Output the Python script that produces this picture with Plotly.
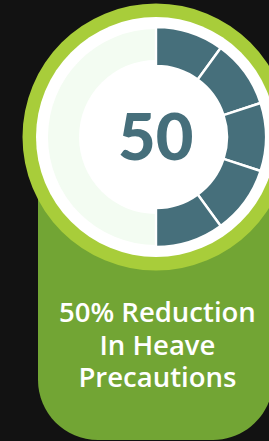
import plotly.graph_objects as go

# ---- data ----
score = 50
segment_values = [10, 10, 10, 10, 10]   # filled gauge segments (sum = score)
remainder = [100 - score]               # unfilled portion
track_values = [100]
big_label = "50"
caption_lines = ["50% Reduction", "In Heave", "Precautions"]

# ---- style ----
W, H = 269, 441
BG = "#121212"
DARK_GREEN = "#72a534"
LIME = "#a8cd3a"
TEAL = "#466f7b"
TRACK = "#f3fcf2"
CX, CY = 156, 137


def dom(r):
    return dict(x=[(CX - r) / W, (CX + r) / W],
                y=[1 - (CY + r) / H, 1 - (CY - r) / H])


fig = go.Figure()

# pale track ring
r_track = 108
fig.add_trace(go.Pie(
    values=track_values, hole=77 / r_track, domain=dom(r_track),
    marker=dict(colors=[TRACK], line=dict(width=0)),
    textinfo="none", hoverinfo="skip", sort=False, showlegend=False))

# teal segments
r_g = 110
fig.add_trace(go.Pie(
    values=segment_values + remainder, hole=71 / r_g, domain=dom(r_g),
    rotation=0, direction="clockwise", sort=False,
    marker=dict(colors=[TEAL] * len(segment_values) + ["rgba(0,0,0,0)"],
                line=dict(color="white", width=[2.4] * len(segment_values) + [0])),
    textinfo="none", hoverinfo="skip", showlegend=False))

k = 0.5523
R = 60
L, Rt, B, T = 38, 273, 440, CY
path = (f"M {L},{T} L {L},{B-R} C {L},{B-R+R*k} {L+R-R*k},{B} {L+R},{B} "
        f"L {Rt-R},{B} C {Rt-R+R*k},{B} {Rt},{B-R+R*k} {Rt},{B-R} L {Rt},{T} Z")

shapes = [
    dict(type="path", path=path, xref="x", yref="y", fillcolor=DARK_GREEN,
         line=dict(width=0), layer="below"),
    dict(type="circle", xref="x", yref="y", x0=CX - 133.5, x1=CX + 133.5,
         y0=CY - 133.5, y1=CY + 133.5, fillcolor=LIME, line=dict(width=0), layer="below"),
    dict(type="circle", xref="x", yref="y", x0=CX - 120, x1=CX + 120,
         y0=CY - 120, y1=CY + 120, fillcolor="white", line=dict(width=0), layer="below"),
]

caption = "<br>".join(f"<span style='font-size:27.5px'>{s}</span>" for s in caption_lines)

annotations = [
    dict(x=155, y=135, xref="x", yref="y", text=big_label, showarrow=False,
         font=dict(family="Lato", size=65, color=TEAL, weight=900),
         xanchor="center", yanchor="middle"),
    dict(x=157, y=344, xref="x", yref="y", text=caption, showarrow=False,
         xanchor="center", yanchor="middle", align="center",
         font=dict(family="Open Sans", size=25, color="white", weight=600)),
]

fig.update_layout(
    width=W, height=H, margin=dict(l=0, r=0, t=0, b=0),
    paper_bgcolor=BG, plot_bgcolor=BG,
    xaxis=dict(range=[0, W], visible=False, fixedrange=True),
    yaxis=dict(range=[H, 0], visible=False, fixedrange=True),
    shapes=shapes, annotations=annotations,
)

fig.write_html("out.html", config={"displayModeBar": False},
               post_script="document.body.style.margin='0';document.body.style.padding='0';"
                           "document.body.style.background='#121212';")
